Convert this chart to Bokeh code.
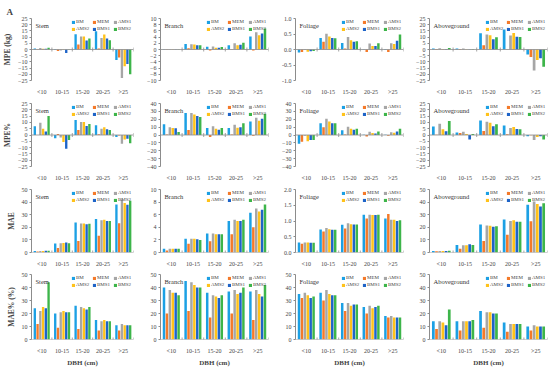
import math
from bokeh.plotting import figure
from bokeh.layouts import gridplot
from bokeh.models import (ColumnDataSource, FixedTicker, Span, Label, Legend,
                          LegendItem, NumeralTickFormatter, Title)
from bokeh.transform import dodge
from bokeh.embed import file_html
from bokeh.resources import INLINE

categories = ["<10", "10-15", "15-20", "20-25", ">25"]
methods = ["BM", "MEM", "AMS1", "AMS2", "BMS1", "BMS2"]
colors = ["#1CA0E4", "#F47A2A", "#A6A6A6", "#FFC21A", "#1E64C8", "#3DB54A"]
components = ["Stem", "Branch", "Foliage", "Aboveground"]
metrics = ["MPE (kg)", "MPE%", "MAE", "MAE% (%)"]
x_title = "DBH (cm)"
panel_tag = "A"

# rows = methods (BM, MEM, AMS1, AMS2, BMS1, BMS2); columns = DBH classes
mpe_kg_stem = [[0.8, -0.5, 12.3, 14.8, -8.5], [-0.3, -1.2, 4.0, 0.8, -6.5], [1.2, -0.8, 10.5, 9.2, -23.0],
               [0.6, -0.3, 10.5, 12.0, -13.5], [0.6, -2.8, 7.2, 8.8, -11.6], [1.5, -0.2, 8.8, 7.5, -20.0]]
mpe_kg_branch = [[0.1, 1.8, 0.9, 1.4, 4.2], [0.05, 0.4, -0.3, 0.1, -0.3], [0.1, 1.7, 1.0, 2.0, 5.6],
                 [0.1, 1.6, 0.6, 1.4, 4.6], [0.1, 1.4, 0.6, 1.5, 5.2], [0.1, 1.4, 0.8, 2.2, 6.8]]
mpe_kg_foliage = [[-0.10, 0.37, 0.21, 0.01, -0.02], [-0.08, 0.25, 0.03, -0.08, -0.08], [-0.02, 0.51, 0.40, 0.19, 0.20],
                  [-0.07, 0.42, 0.30, 0.11, 0.18], [-0.06, 0.37, 0.25, 0.11, 0.28], [-0.05, 0.36, 0.27, 0.20, 0.48]]
mpe_kg_above = [[0.8, 0.8, 13.2, 16.2, -4.0], [-0.5, 0.5, 3.5, 0.3, -6.0], [1.0, 0.8, 12.0, 11.3, -17.0],
                [0.5, 0.3, 11.5, 13.3, -8.5], [0.5, -0.2, 8.3, 10.3, -7.0], [1.2, 0.4, 9.8, 10.0, -14.0]]
mpe_pct_stem = [[7.0, -2.5, 12.0, 7.8, -1.5], [0.0, 0.8, 4.0, 0.5, -0.3], [9.8, -2.0, 10.3, 5.0, -7.0],
                [5.0, -5.5, 10.3, 6.2, -3.5], [2.8, -11.0, 7.2, 4.5, -3.0], [15.0, -4.0, 8.8, 4.0, -6.5]]
mpe_pct_branch = [[13.5, 28.0, 8.8, 8.8, 17.0], [0.5, 6.5, -2.5, 0.5, -1.0], [10.0, 28.0, 11.0, 13.0, 22.0],
                  [8.8, 26.0, 8.0, 9.2, 18.0], [8.5, 24.0, 6.8, 9.8, 20.5], [3.8, 23.0, 9.0, 14.8, 27.0]]
mpe_pct_foliage = [[-11.0, 15.0, 6.0, 0.3, 0.2], [-8.5, 10.0, 0.5, -2.0, -1.0], [-1.0, 20.5, 10.5, 4.0, 3.5],
                   [-8.0, 17.0, 8.0, 2.5, 3.0], [-6.5, 15.0, 6.8, 2.0, 4.5], [-6.5, 15.0, 7.8, 4.5, 7.8]]
mpe_pct_above = [[6.8, 2.0, 11.5, 7.5, -1.0], [0.2, 1.5, 3.2, 0.5, -0.2], [9.0, 2.5, 10.5, 5.5, -4.0],
                 [4.5, 0.8, 9.8, 6.3, -1.5], [3.0, -3.5, 7.0, 4.8, -1.0], [11.2, 0.8, 8.5, 4.5, -3.5]]
mae_stem = [[1.2, 7.2, 23.8, 26.5, 38.0], [0.8, 3.5, 9.2, 13.2, 23.2], [1.2, 7.3, 23.0, 25.5, 42.0],
            [1.2, 7.6, 23.0, 26.0, 39.2], [1.3, 8.0, 22.5, 25.0, 37.8], [1.4, 7.4, 22.8, 25.0, 41.0]]
mae_branch = [[0.6, 2.2, 3.0, 5.0, 6.3], [0.3, 1.4, 1.8, 2.9, 4.0], [0.6, 2.2, 3.0, 5.2, 7.0],
              [0.6, 2.2, 2.9, 5.0, 6.5], [0.6, 2.1, 2.9, 5.0, 6.8], [0.6, 2.0, 2.9, 5.2, 7.6]]
mae_foliage = [[0.32, 0.73, 0.88, 1.20, 1.08], [0.28, 0.67, 0.76, 1.08, 1.22], [0.32, 0.78, 0.93, 1.20, 1.04],
               [0.32, 0.74, 0.90, 1.19, 1.04], [0.31, 0.72, 0.89, 1.19, 1.00], [0.31, 0.72, 0.89, 1.20, 1.02]]
mae_above = [[1.2, 6.0, 22.2, 26.2, 37.8], [1.0, 3.0, 9.2, 14.0, 24.8], [1.2, 5.8, 21.5, 25.0, 40.5],
             [1.2, 5.8, 21.3, 25.5, 38.5], [1.2, 6.5, 20.5, 24.5, 36.5], [1.4, 6.0, 20.8, 24.5, 39.0]]
maep_stem = [[24, 20, 26, 15, 11], [12, 9, 8, 7, 7], [22, 21, 25, 14, 12],
             [25, 22, 24, 15, 11], [24, 21, 23, 14, 11], [44, 21, 25, 14, 11]]
maep_branch = [[40, 45, 36, 37, 37], [20, 22, 17, 20, 15], [38, 44, 34, 38, 38],
               [36, 42, 33, 35, 35], [36, 40, 32, 36, 33], [34, 40, 34, 40, 42]]
maep_foliage = [[35, 36, 28, 25, 18], [32, 30, 22, 20, 17], [36, 38, 28, 26, 18],
                [34, 35, 26, 24, 17], [32, 34, 27, 25, 17], [33, 34, 27, 26, 17]]
maep_above = [[14, 14, 22, 13, 10], [8, 7, 9, 6, 7], [14, 14, 21, 12, 11],
              [13, 14, 21, 12, 10], [11, 14, 20, 12, 10], [23, 15, 20, 12, 10]]

panels = [
    [mpe_kg_stem, mpe_kg_branch, mpe_kg_foliage, mpe_kg_above],
    [mpe_pct_stem, mpe_pct_branch, mpe_pct_foliage, mpe_pct_above],
    [mae_stem, mae_branch, mae_foliage, mae_above],
    [maep_stem, maep_branch, maep_foliage, maep_above],
]
# y-axis tick specs (start, end, step)
y_specs = [
    [(-25, 25, 5), (-10, 10, 2), (-1.0, 1.0, 0.5), (-25, 25, 5)],
    [(-25, 25, 5), (-40, 40, 10), (-40, 40, 10), (-25, 25, 5)],
    [(0, 50, 10), (0, 10, 2), (0, 2.0, 0.5), (0, 50, 10)],
    [(0, 50, 10), (0, 50, 10), (0, 50, 10), (0, 50, 10)],
]

FONT = "Liberation Serif"
col_w = [136, 135, 135, 142]
col_left = [29, 24, 24, 23]
row_h = [97, 86, 86, 98]
row_top = [18, 6, 6, 5]
row_bottom = [9, 11, 11, 23]
AXC = "#8C8C8C"


def make_panel(r, c):
    data = panels[r][c]
    lo, hi, step = y_specs[r][c]
    n = int(round((hi - lo) / step))
    ticks = [round(lo + k * step, 3) for k in range(n + 1)]
    cols = {"cat": categories}
    for i, m in enumerate(methods):
        cols[m] = data[i]
    src = ColumnDataSource(cols)
    p = figure(x_range=categories, y_range=(lo, hi), width=col_w[c], height=row_h[r],
               output_backend="svg", toolbar_location=None,
               min_border_left=col_left[c], min_border_right=3 if c < 3 else 1,
               min_border_top=row_top[r], min_border_bottom=row_bottom[r])
    p.xgrid.visible = False
    p.ygrid.visible = False
    p.outline_line_color = None

    p.add_layout(Span(location=0, dimension="width", line_color=AXC, line_width=0.8))
    p.scatter(x=dodge("cat", 0.5, range=p.x_range), y=0, source=src, marker="dash",
              angle=math.pi / 2, size=4, line_color=AXC, line_width=0.8)

    items = []
    for i, m in enumerate(methods):
        off = (i - 2.5) * 0.135
        rr = p.vbar(x=dodge("cat", off, range=p.x_range), top=m, bottom=0, width=0.115,
                    source=src, fill_color=colors[i], line_color=None)
        items.append(LegendItem(label=m, renderers=[rr]))
    leg = Legend(items=items, location="top_right", orientation="horizontal", ncols=3,
                 label_text_font_size="5px", label_text_font=FONT,
                 glyph_width=4, glyph_height=4, label_standoff=1, spacing=2,
                 label_height=5, label_width=14,
                 padding=0, margin=1, background_fill_alpha=0, border_line_alpha=0)
    p.add_layout(leg)

    p.add_layout(Label(x=0, y=hi, x_offset=4, y_offset=-3, text=components[c],
                       text_baseline="top", text_font_size="6.5px", text_font=FONT,
                       text_color="#333333"))
    if r == 0 and c == 0:
        p.title.text = panel_tag
        p.title.text_font = FONT
        p.title.text_font_size = "9px"
        p.title.text_font_style = "bold"
        p.title.offset = -25
        p.title.standoff = 4
    if r == 3:
        p.add_layout(Title(text=x_title, align="center", text_font=FONT,
                           text_font_size="7px", text_font_style="bold",
                           standoff=1), "below")

    xa = p.xaxis[0]
    xa.axis_line_color = None
    xa.major_tick_line_color = None
    xa.minor_tick_line_color = None
    xa.major_label_text_font_size = "6px"
    xa.major_label_text_font = FONT
    xa.major_label_standoff = 2

    ya = p.yaxis[0]
    ya.ticker = FixedTicker(ticks=ticks)
    if c == 2 and r in (0, 2):
        ya.formatter = NumeralTickFormatter(format="0.0")
    ya.axis_line_color = AXC
    ya.major_tick_line_color = AXC
    ya.major_tick_out = 2
    ya.major_tick_in = 0
    ya.minor_tick_line_color = None
    ya.major_label_text_font_size = "6px"
    ya.major_label_text_font = FONT
    ya.major_label_standoff = 2
    if c == 0:
        ya.axis_label = metrics[r]
        ya.axis_label_text_font_size = "7.5px"
        ya.axis_label_text_font = FONT
        ya.axis_label_text_font_style = "bold"
        ya.axis_label_standoff = 3
    return p


figs = [[make_panel(r, c) for c in range(4)] for r in range(4)]
grid = gridplot(figs, toolbar_location=None)

open("out.html", "w").write(file_html(grid, INLINE))
